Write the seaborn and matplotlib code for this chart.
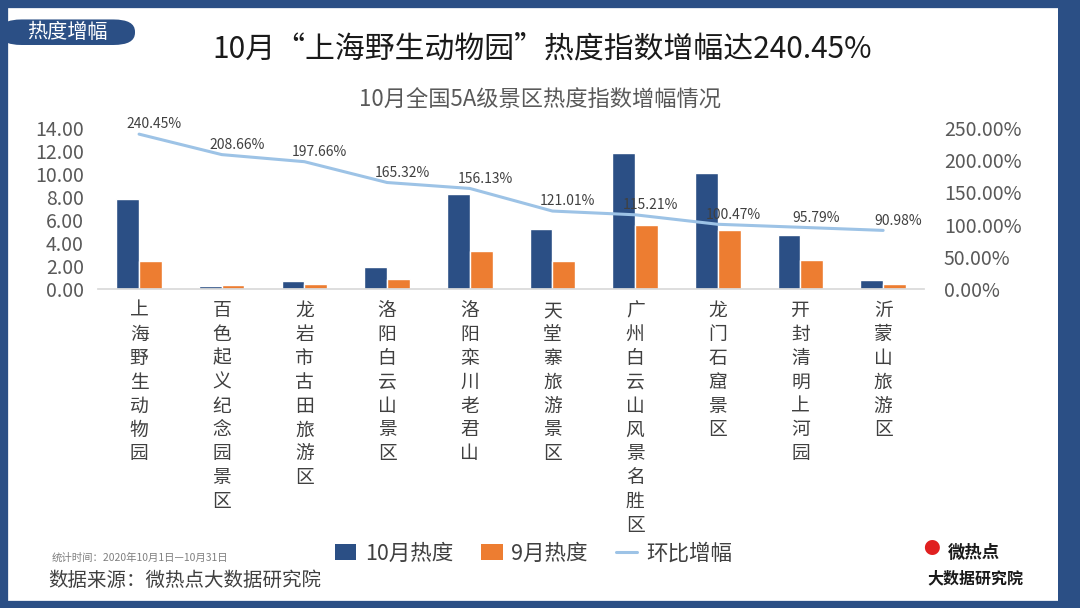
# ===== IMPORTS =====
import numpy as np
import pandas as pd
import matplotlib.pyplot as plt
import seaborn as sns
from matplotlib.patches import Rectangle, FancyBboxPatch, Patch
from matplotlib.lines import Line2D

# === DATA ===
cats = ["上海野生动物园", "百色起义纪念园景区", "龙岩市古田旅游区", "洛阳白云山景区",
        "洛阳栾川老君山", "天堂寨旅游景区", "广州白云山风景名胜区", "龙门石窟景区",
        "开封清明上河园", "沂蒙山旅游区"]
oct_heat = [7.8, 0.25, 0.7, 1.9, 8.3, 5.2, 11.8, 10.1, 4.7, 0.8]
sep_heat = [2.4, 0.35, 0.45, 0.9, 3.3, 2.4, 5.6, 5.1, 2.5, 0.45]
growth = [240.45, 208.66, 197.66, 165.32, 156.13, 121.01, 115.21, 100.47, 95.79, 90.98]
left_ticks = [0, 2, 4, 6, 8, 10, 12, 14]
right_ticks = [0, 50, 100, 150, 200, 250]

series_names = ["10月热度", "9月热度", "环比增幅"]

# === STYLE ===
sns.set_theme(style="white")
plt.rcParams['font.family'] = ['Noto Sans CJK SC', 'DejaVu Sans']

DARK = "#2B4F85"
ORANGE = "#ED7D31"
LINE = "#9DC3E6"
GREY = "#595959"

df = pd.DataFrame({
    "景区": cats * 2,
    "热度": oct_heat + sep_heat,
    "月份": [series_names[0]] * len(cats) + [series_names[1]] * len(cats),
})

fig = plt.figure(figsize=(10.8, 6.08), dpi=100)
ax = fig.add_axes([0.0905, 0.5247, 0.7655, 0.2648])

sns.barplot(data=df, x="景区", y="热度", hue="月份", order=cats,
            palette=[DARK, ORANGE], width=0.55, gap=0, saturation=1,
            legend=False, ax=ax)
ax.set_ylim(0, 14)
ax.set_xlim(-0.5, len(cats) - 0.5)
ax.set_yticks(left_ticks)
ax.set_yticklabels([f"{v:.2f}" for v in left_ticks], fontsize=14, color=GREY)
ax.set_xticks(range(len(cats)))
ax.set_xticklabels(["\n".join(c) for c in cats], fontsize=13.5, color="#404040",
                   va="top", linespacing=1.18)
ax.tick_params(axis="x", length=0, pad=8)
ax.tick_params(axis="y", length=0, pad=10)
ax.set_xlabel("")
ax.set_ylabel("")
for s in ["top", "right", "left"]:
    ax.spines[s].set_visible(False)
ax.spines["bottom"].set_color("#D9D9D9")

# === LINE (right axis) ===
ax2 = ax.twinx()
sns.lineplot(x=np.arange(len(cats)), y=growth, color=LINE, linewidth=2.2, ax=ax2)
ax2.set_ylim(0, 250)
ax2.set_yticks(right_ticks)
ax2.set_yticklabels([f"{v:.2f}%" for v in right_ticks], fontsize=14, color=GREY)
ax2.tick_params(axis="y", length=0, pad=14)
for s in ["top", "right", "left", "bottom"]:
    ax2.spines[s].set_visible(False)
for i, g in enumerate(growth):
    ax2.annotate(f"{g:.2f}%", (i, g), xytext=(11, 2), textcoords="offset points",
                 ha="center", va="bottom", fontsize=10, color="#404040")

# === FRAME AND TITLES ===
fig.patches.append(Rectangle((0, 0), 1, 1, transform=fig.transFigure,
                             fill=False, edgecolor=DARK, linewidth=11, zorder=10))
fig.patches.append(Rectangle((0.98, 0), 0.02, 1, transform=fig.transFigure,
                             facecolor=DARK, edgecolor="none", zorder=10))
fig.patches.append(FancyBboxPatch((0.0, 0.926), 0.125, 0.042,
                                  boxstyle="round,pad=0,rounding_size=0.02",
                                  transform=fig.transFigure, facecolor=DARK,
                                  edgecolor="none", mutation_aspect=1.0, zorder=11))
fig.text(0.062, 0.946, "热度增幅", color="white", fontsize=14.5, ha="center",
         va="center", zorder=12)
fig.text(0.502, 0.919, "10月“上海野生动物园”热度指数增幅达240.45%", fontsize=21.5,
         ha="center", va="center", color="#1A1A1A")
fig.text(0.5, 0.835, "10月全国5A级景区热度指数增幅情况", fontsize=16,
         ha="center", va="center", color=GREY)

# === LEGEND ===
handles = [Patch(facecolor=DARK, edgecolor="none"),
           Patch(facecolor=ORANGE, edgecolor="none"),
           Line2D([0], [0], color=LINE, linewidth=2.2)]
fig.legend(handles, series_names, loc="center", bbox_to_anchor=(0.494, 0.089),
           ncol=3, frameon=False, fontsize=15.5, handlelength=1.0,
           handleheight=0.75, columnspacing=1.3, handletextpad=0.4,
           labelcolor="#404040")

# === FOOTER ===
fig.text(0.048, 0.083, "统计时间：2020年10月1日—10月31日", fontsize=7.5,
         color="#7F7F7F", va="center")
fig.text(0.045, 0.045, "数据来源：微热点大数据研究院", fontsize=14,
         color="#404040", va="center")
fig.text(0.862, 0.096, "●", fontsize=12, color="#E02020", ha="center", va="center")
fig.text(0.902, 0.09, "微热点", fontsize=12.5, color="#1A1A1A", ha="center",
         va="center", fontweight="bold")
fig.text(0.903, 0.048, "大数据研究院", fontsize=11.5, color="#1A1A1A", ha="center",
         va="center", fontweight="bold")

fig.savefig("out.png", dpi=100)
